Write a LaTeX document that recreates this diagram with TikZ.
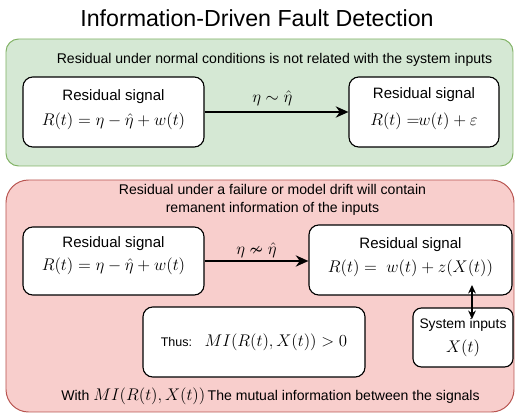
\documentclass[tikz,border=0pt]{standalone}
\usepackage[no-math]{fontspec}
\setmainfont{Liberation Sans}
\usepackage{amsmath,amssymb}
\usetikzlibrary{arrows.meta}

\definecolor{okfill}{HTML}{D5E8D4}
\definecolor{okline}{HTML}{82B366}
\definecolor{failfill}{HTML}{F8CECC}
\definecolor{failline}{HTML}{B85450}

\newcommand{\eqsize}{\fontsize{12.4}{14}\selectfont}
% extra depth to lift two-line contents a little
\newcommand{\liftstrut}[1]{\rule[-#1]{0pt}{0pt}}

\begin{document}
\begin{tikzpicture}[x=0.025cm,y=-0.025cm,
        sigbox/.style={draw,fill=white,rounded corners=7pt,line width=0.8pt,
            align=center,inner sep=0pt,font=\fontsize{10.7}{13}\selectfont},
        bigarrow/.style={line width=2.1pt,-{Stealth[length=9pt,width=8pt]}},
        note/.style={font=\fontsize{10}{12.8}\selectfont,align=center}]
    \useasboundingbox (0,0) rectangle (516,414);

    \node[font=\fontsize{16.5}{20}\selectfont] (title) at (257,18)
        {Information-Driven Fault Detection};

    % normal conditions
    \draw[fill=okfill,draw=okline,line width=0.7pt,rounded corners=9pt]
        (6,39) rectangle (513,166);
    \node[note] (oknote) at (274.5,60)
        {Residual under normal conditions is not related with the system inputs};

    \node[sigbox,minimum width=4.525cm,minimum height=1.75cm] (okres) at (113.5,112)
        {Residual signal\\[5pt]\eqsize$R(t)=\eta-\hat{\eta}+w(t)$\liftstrut{6.3pt}};
    \node[sigbox,minimum width=3.75cm,minimum height=1.75cm] (okout) at (424,112)
        {Residual signal\\[6pt]\eqsize$R(t)\mathrel{=}\!\!w(t)+\varepsilon$\liftstrut{7.9pt}};

    \draw[bigarrow] (okres) -- (okout)
        node[midway,above=0pt,font=\eqsize,xshift=-3pt] {$\eta\sim\hat{\eta}$};

    % failure or model drift
    \draw[fill=failfill,draw=failline,line width=0.7pt,rounded corners=16pt]
        (6,180) rectangle (514,412);
    \node[note] (failnote) at (272.5,200)
        {Residual under a failure or model drift will contain\\remanent information of the inputs};

    \node[sigbox,minimum width=4.525cm,minimum height=1.7cm] (failres) at (113.5,261)
        {Residual signal\\[4pt]\eqsize$R(t)=\eta-\hat{\eta}+w(t)$\liftstrut{10.6pt}};
    \node[sigbox,minimum width=5.075cm,minimum height=1.75cm] (failout) at (410.5,260)
        {Residual signal\\[4pt]\eqsize$R(t)=\;w(t)+z(X(t))$\liftstrut{6.7pt}};

    \draw[bigarrow] (failres.east |- 0,261) -- (failout.west |- 0,261)
        node[midway,above=-2pt,font=\eqsize] {$\eta\nsim\hat{\eta}$};

    \node[sigbox,minimum width=5.55cm,minimum height=1.75cm] (thus) at (254,342)
        {\fontsize{8.9}{11}\selectfont Thus:\quad\eqsize$MI(R(t),X(t))>0$};

    \node[sigbox,minimum width=2.5cm,minimum height=1.475cm,rounded corners=6pt,
        font=\fontsize{9.85}{12}\selectfont] (inputs) at (463,337.5)
        {System inputs\\[5pt]\eqsize$X(t)$};

    \coordinate (xa) at (472,285);
    \coordinate (xb) at (472,319);
    \draw[line width=1pt,{Stealth[length=6pt,width=5.5pt]}-{Stealth[length=6pt,width=5.5pt]}]
        (xa) -- (xb);

    \node[note] (minote) at (270.5,396)
        {With \eqsize$MI(R(t),X(t))$\fontsize{10}{12}\selectfont\,The mutual information between the signals};
\end{tikzpicture}
\end{document}
